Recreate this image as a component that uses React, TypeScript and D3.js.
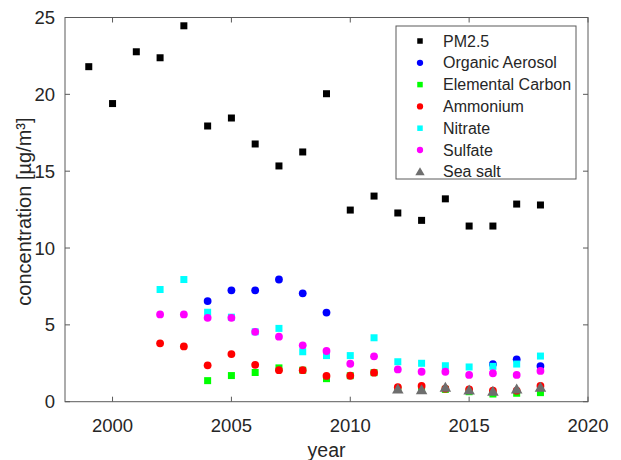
import * as d3 from 'd3';

const years = d3.range(1999, 2019);

const pm25 = [21.8, 19.4, 22.77, 22.38, 24.46, 17.94, 18.46, 16.77, 15.34, 16.25, 20.04, 12.47, 13.38, 12.28, 11.8, 13.2, 11.43, 11.43, 12.86, 12.8];
const organic = [null, null, null, null, null, 6.55, 7.25, 7.25, 7.95, 7.05, 5.8, null, null, null, null, null, null, 2.45, 2.76, 2.32];
const elemental = [null, null, null, null, null, 1.37, 1.7, 1.9, 2.2, 2.05, 1.5, 1.69, 1.89, 0.8, 0.75, 0.8, 0.65, 0.5, 0.55, 0.59];
const ammonium = [null, null, null, 3.8, 3.6, 2.37, 3.1, 2.4, 2.05, 2.05, 1.68, 1.69, 1.89, 0.94, 1.02, 0.85, 0.8, 0.72, 0.72, 1.02];
const nitrate = [null, null, null, 7.3, 7.95, 5.82, 5.5, 4.55, 4.77, 3.25, 3.0, 3.0, 4.16, 2.6, 2.5, 2.34, 2.26, 2.3, 2.45, 2.97];
const sulfate = [null, null, null, 5.68, 5.68, 5.46, 5.46, 4.55, 4.23, 3.67, 3.3, 2.47, 2.95, 2.1, 1.95, 1.95, 1.74, 1.85, 1.74, 2.0];
const seaSalt = [null, null, null, null, null, null, null, null, null, null, null, null, null, 0.8, 0.76, 0.91, 0.74, 0.65, 0.8, 0.91];

const xTicks = [2000, 2005, 2010, 2015, 2020];
const yTicks = [0, 5, 10, 15, 20, 25];

type Shape = 'square' | 'circle' | 'triangle';
const series: { name: string; values: (number | null)[]; color: string; shape: Shape }[] = [
  { name: 'PM2.5', values: pm25, color: '#000000', shape: 'square' },
  { name: 'Organic Aerosol', values: organic, color: '#0000ff', shape: 'circle' },
  { name: 'Elemental Carbon', values: elemental, color: '#00ff00', shape: 'square' },
  { name: 'Ammonium', values: ammonium, color: '#ff0000', shape: 'circle' },
  { name: 'Nitrate', values: nitrate, color: '#00ffff', shape: 'square' },
  { name: 'Sulfate', values: sulfate, color: '#ff00ff', shape: 'circle' },
  { name: 'Sea salt', values: seaSalt, color: '#6e6e6e', shape: 'triangle' },
];

const W = 621;
const H = 460;
const left = 65, right = 588, top = 17.5, bottom = 401.7;
const axisColor = '#5a5a5a';
const textColor = '#262626';
const font = '"Liberation Sans", Arial, sans-serif';

const Marker = ({ shape, x, y, color, size }: { shape: Shape; x: number; y: number; color: string; size: number }) => {
  if (shape === 'square') {
    return <rect x={x - size / 2} y={y - size / 2} width={size} height={size} fill={color} />;
  }
  if (shape === 'circle') {
    return <circle cx={x} cy={y} r={size / 2 + 0.4} fill={color} />;
  }
  const tri = d3.symbol(d3.symbolTriangle, size * size * 0.9)();
  return <path d={tri || ''} transform={`translate(${x},${y + 0.8})`} fill={color} />;
};

export default function App() {
  const x = d3.scaleLinear().domain([1998, 2020]).range([left, right]);
  const y = d3.scaleLinear().domain([0, 25]).range([bottom, top]);
  const tickLen = 5;

  const legendX = 396, legendY = 26, legendW = 180, legendH = 153;
  const rowH = 21.8;

  return (
    <svg width={W} height={H} style={{ position: 'absolute', left: 0, top: 0, background: '#fff' }} fontFamily={font}>
      {/* box */}
      <rect x={left} y={top} width={right - left} height={bottom - top} fill="none" stroke={axisColor} strokeWidth={1} />
      {/* x ticks */}
      {xTicks.map((t) => (
        <g key={'x' + t}>
          <line x1={x(t)} x2={x(t)} y1={bottom} y2={bottom - tickLen} stroke={axisColor} />
          <line x1={x(t)} x2={x(t)} y1={top} y2={top + tickLen} stroke={axisColor} />
          <text x={x(t)} y={432} textAnchor="middle" fontSize={18.5} fill={textColor}>{t}</text>
        </g>
      ))}
      {/* y ticks */}
      {yTicks.map((t) => (
        <g key={'y' + t}>
          <line x1={left} x2={left + tickLen} y1={y(t)} y2={y(t)} stroke={axisColor} />
          <line x1={right} x2={right - tickLen} y1={y(t)} y2={y(t)} stroke={axisColor} />
          <text x={55} y={y(t) + 6.5} textAnchor="end" fontSize={18.5} fill={textColor}>{t}</text>
        </g>
      ))}
      <text x={(left + right) / 2} y={457} textAnchor="middle" fontSize={19.5} fill={textColor}>year</text>
      <text transform={`translate(31,${(top + bottom) / 2 + 2}) rotate(-90)`} textAnchor="middle" fontSize={20} fill={textColor}>
        concentration [µg/m³]
      </text>

      {/* data */}
      {series.map((s) => (
        <g key={s.name}>
          {s.values.map((v, i) =>
            v == null ? null : (
              <Marker key={i} shape={s.shape} x={x(years[i])} y={y(v)} color={s.color} size={s.shape === 'triangle' ? 8 : 7} />
            )
          )}
        </g>
      ))}

      {/* legend */}
      <rect x={legendX} y={legendY} width={legendW} height={legendH} fill="#fff" stroke={axisColor} strokeWidth={1} />
      {series.map((s, i) => {
        const cy = legendY + 15 + i * rowH;
        return (
          <g key={'l' + s.name}>
            <Marker shape={s.shape} x={420} y={cy} color={s.color} size={s.shape === 'triangle' ? 6.5 : 5.5} />
            <text x={443} y={cy + 5.5} fontSize={16} fill={textColor}>{s.name}</text>
          </g>
        );
      })}
    </svg>
  );
}
